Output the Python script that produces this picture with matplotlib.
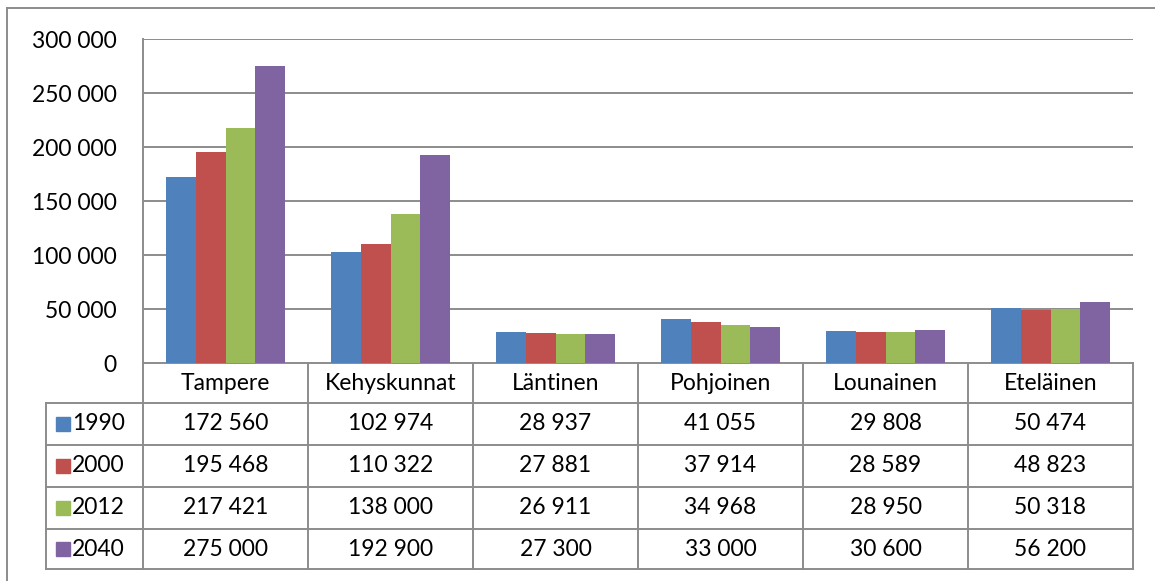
import matplotlib
matplotlib.use('Agg')
import matplotlib.pyplot as plt
import matplotlib.transforms as mtransforms
from matplotlib.lines import Line2D
from matplotlib.patches import Rectangle
import numpy as np

regions = ['Tampere', 'Kehyskunnat', 'Läntinen', 'Pohjoinen', 'Lounainen', 'Eteläinen']
years = ['1990', '2000', '2012', '2040']
pop_1990 = [172560, 102974, 28937, 41055, 29808, 50474]
pop_2000 = [195468, 110322, 27881, 37914, 28589, 48823]
pop_2012 = [217421, 138000, 26911, 34968, 28950, 50318]
pop_2040 = [275000, 192900, 27300, 33000, 30600, 56200]
colors = ['#4F81BD', '#C0504D', '#9BBB59', '#8064A2']
yticks = [0, 50000, 100000, 150000, 200000, 250000, 300000]

series = [pop_1990, pop_2000, pop_2012, pop_2040]
grid_col = '#8C8C8C'
fs = 16.5
plt.rcParams['font.family'] = ['Lato', 'DejaVu Sans']


def fmt(v):
    return '{:,}'.format(v).replace(',', ' ')


W, H = 1155, 581
fig = plt.figure(figsize=(W / 100, H / 100), dpi=100)
ax = fig.add_axes([143 / W, (H - 363) / H, (1133 - 143) / W, 324 / H])

x = np.arange(len(regions))
bw = 0.1815
for i, vals in enumerate(series):
    ax.bar(x + (i - 1.5) * bw, vals, width=bw, color=colors[i], zorder=3)

ax.set_xlim(-0.5, len(regions) - 0.5)
ax.set_ylim(0, 300000)
ax.set_yticks(yticks)
ax.set_yticklabels([fmt(t) for t in yticks], fontsize=fs, color='black')
ax.tick_params(axis='y', length=0, pad=19)
ax.set_xticks([])
for t in yticks[1:]:
    ax.axhline(t, color=grid_col, lw=1.4, zorder=1)
for s in ['top', 'right', 'bottom']:
    ax.spines[s].set_visible(False)
ax.spines['left'].set_color(grid_col)
ax.spines['left'].set_linewidth(1.4)

# data table below the axis
trans = mtransforms.blended_transform_factory(ax.transData, ax.transAxes)


def ya(py):
    return (363 - py) / 324


leg_x = -0.5 - (143 - 46) / 165.3
row_lines = [363, 403, 445, 487, 529, 569]
for py in row_lines:
    x0 = -0.5 if py == 363 else leg_x
    ax.add_line(Line2D([x0, len(regions) - 0.5], [ya(py), ya(py)], transform=trans,
                       color=grid_col, lw=1.4, clip_on=False))
for k in range(len(regions) + 1):
    ax.add_line(Line2D([k - 0.5, k - 0.5], [ya(363), ya(569)], transform=trans,
                       color=grid_col, lw=1.4, clip_on=False))
ax.add_line(Line2D([leg_x, leg_x], [ya(403), ya(569)], transform=trans,
                   color=grid_col, lw=1.4, clip_on=False))

for j, name in enumerate(regions):
    ax.text(j, ya(384), name, transform=trans, ha='center', va='center',
            fontsize=fs, color='black')

for i, vals in enumerate(series):
    yc = ya((row_lines[i + 1] + row_lines[i + 2]) / 2)
    for j, v in enumerate(vals):
        ax.text(j, yc, fmt(v), transform=trans, ha='center', va='center',
                fontsize=fs, color='black')
    sw = 14 / 165.3
    ax.add_patch(Rectangle((leg_x + 10 / 165.3, yc - 7 / 324), sw, 14 / 324,
                           transform=trans, color=colors[i], clip_on=False))
    ax.text(leg_x + 26 / 165.3, yc, years[i], transform=trans, ha='left', va='center',
            fontsize=fs, color='black')

# outer chart frame
fig.add_artist(Line2D([7 / W, 7 / W], [0, (H - 8) / H], transform=fig.transFigure,
                      color=grid_col, lw=1.4))
fig.add_artist(Line2D([7 / W, 1], [(H - 8) / H, (H - 8) / H], transform=fig.transFigure,
                      color=grid_col, lw=1.4))

fig.savefig('out.png', dpi=100)
